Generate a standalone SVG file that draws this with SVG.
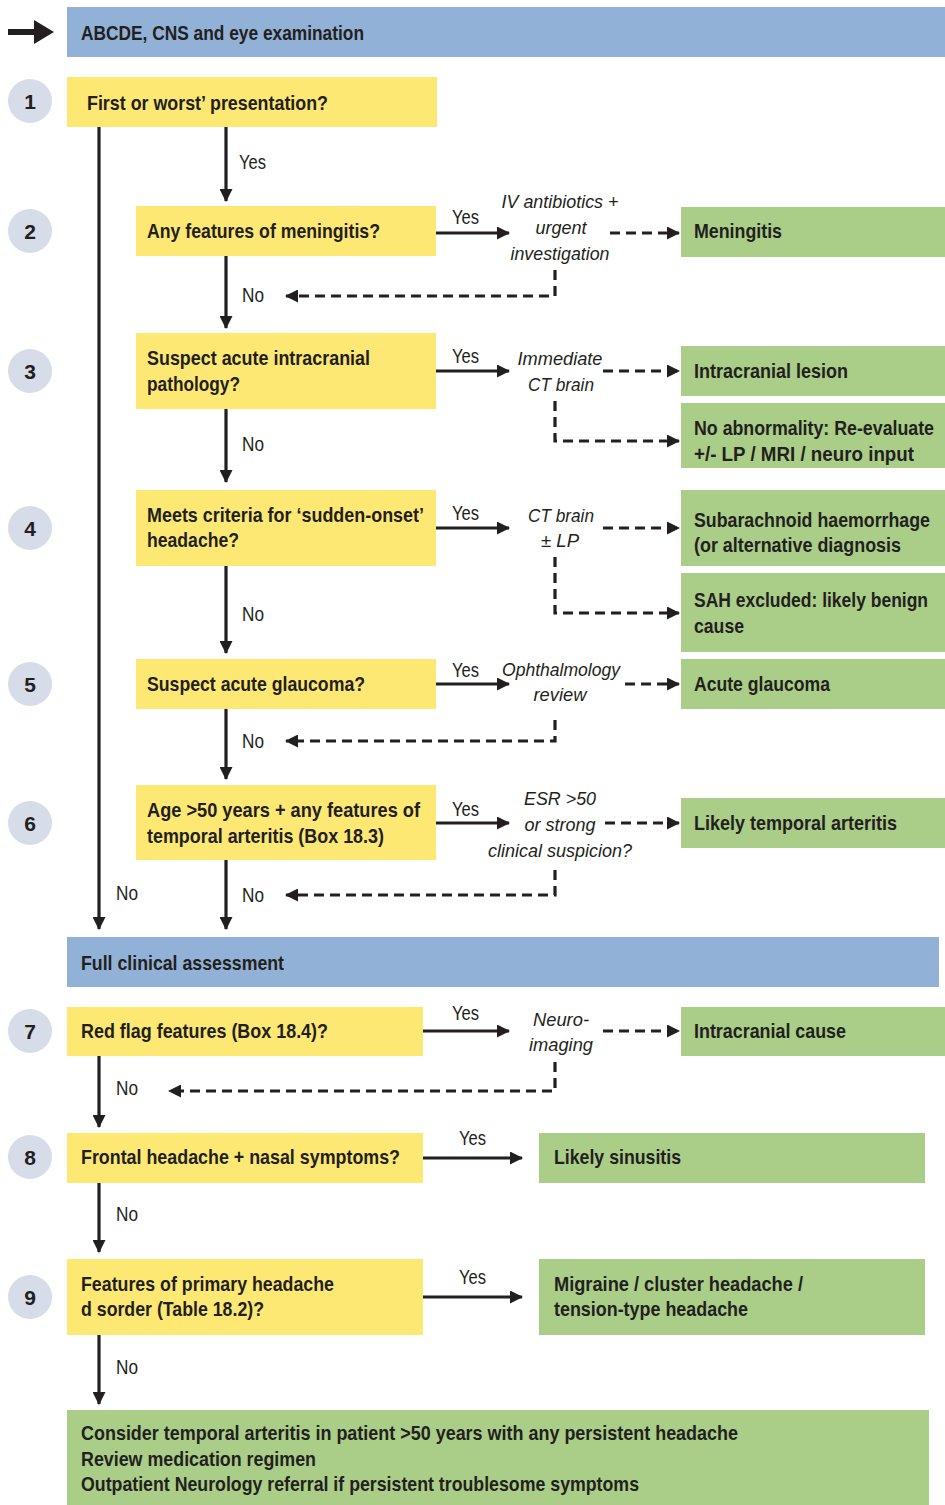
<svg xmlns="http://www.w3.org/2000/svg" width="945" height="1505" viewBox="0 0 945 1505">
<style>
.y{fill:#fde874}.g{fill:#aacd88}.b{fill:#92b1d7}.c{fill:#d6dde9}
text{font-family:"Liberation Sans",Arial,sans-serif;fill:#231f20}
.t{font-size:21px;font-weight:bold}
.n{font-size:21px;font-weight:bold;text-anchor:middle}
.l{font-size:20px}
.i{font-size:19px;font-style:italic;text-anchor:middle}
.s{stroke:#231f20;stroke-width:3.2;fill:none}
.d{stroke:#231f20;stroke-width:3.2;fill:none;stroke-dasharray:10 6}
</style>
<defs>
<marker id="a" markerWidth="13" markerHeight="13" refX="12" refY="6.5" orient="auto" markerUnits="userSpaceOnUse"><path d="M0,0L13,6.5L0,13z" fill="#231f20"/></marker>
</defs>
<g id="start"><path d="M8,29H34V20L54,32L34,44V35H8z" fill="#231f20"/></g>
<g id="header"><rect class="b" x="67" y="7" width="878" height="50"/><text class="t" x="81" y="40" textLength="283" lengthAdjust="spacingAndGlyphs">ABCDE, CNS and eye examination</text></g>
<g id="c1"><circle class="c" cx="30" cy="101" r="22"/><text class="n" x="30" y="109">1</text></g>
<g id="c2"><circle class="c" cx="30" cy="231" r="22"/><text class="n" x="30" y="239">2</text></g>
<g id="c3"><circle class="c" cx="30" cy="371" r="22"/><text class="n" x="30" y="379">3</text></g>
<g id="c4"><circle class="c" cx="30" cy="528" r="22"/><text class="n" x="30" y="536">4</text></g>
<g id="c5"><circle class="c" cx="30" cy="684" r="22"/><text class="n" x="30" y="692">5</text></g>
<g id="c6"><circle class="c" cx="30" cy="823" r="22"/><text class="n" x="30" y="831">6</text></g>
<g id="c7"><circle class="c" cx="30" cy="1031" r="22"/><text class="n" x="30" y="1039">7</text></g>
<g id="c8"><circle class="c" cx="30" cy="1157" r="22"/><text class="n" x="30" y="1165">8</text></g>
<g id="c9"><circle class="c" cx="30" cy="1297" r="22"/><text class="n" x="30" y="1305">9</text></g>

<g id="q1"><rect class="y" x="67" y="77" width="370" height="50"/><text class="t" x="87" y="110" textLength="241" lengthAdjust="spacingAndGlyphs">First or worst’ presentation?</text></g>
<g id="q2"><rect class="y" x="136" y="206" width="300" height="50"/><text class="t" x="147" y="238" textLength="233" lengthAdjust="spacingAndGlyphs">Any features of meningitis?</text></g>
<g id="q3"><rect class="y" x="136" y="333" width="300" height="76"/><text class="t" x="147" y="365" textLength="223" lengthAdjust="spacingAndGlyphs">Suspect acute intracranial</text><text class="t" x="147" y="391" textLength="93" lengthAdjust="spacingAndGlyphs">pathology?</text></g>
<g id="q4"><rect class="y" x="136" y="490" width="300" height="76"/><text class="t" x="147" y="522" textLength="277" lengthAdjust="spacingAndGlyphs">Meets criteria for ‘sudden-onset’</text><text class="t" x="147" y="547" textLength="92" lengthAdjust="spacingAndGlyphs">headache?</text></g>
<g id="q5"><rect class="y" x="136" y="659" width="300" height="50"/><text class="t" x="147" y="691" textLength="218" lengthAdjust="spacingAndGlyphs">Suspect acute glaucoma?</text></g>
<g id="q6"><rect class="y" x="136" y="785" width="300" height="75"/><text class="t" x="147" y="817" textLength="273" lengthAdjust="spacingAndGlyphs">Age &gt;50 years + any features of</text><text class="t" x="147" y="843" textLength="237" lengthAdjust="spacingAndGlyphs">temporal arteritis (Box 18.3)</text></g>

<g id="r1"><rect class="g" x="681" y="207" width="264" height="50"/><text class="t" x="694" y="238" textLength="88" lengthAdjust="spacingAndGlyphs">Meningitis</text></g>
<g id="r2"><rect class="g" x="681" y="346" width="264" height="50"/><text class="t" x="694" y="378" textLength="154" lengthAdjust="spacingAndGlyphs">Intracranial lesion</text></g>
<g id="r3"><rect class="g" x="681" y="403" width="264" height="65"/><text class="t" x="694" y="435" textLength="240" lengthAdjust="spacingAndGlyphs">No abnormality: Re-evaluate</text><text class="t" x="694" y="461" textLength="220" lengthAdjust="spacingAndGlyphs">+/- LP / MRI / neuro input</text></g>
<g id="r4"><rect class="g" x="681" y="490" width="264" height="76"/><text class="t" x="694" y="527" textLength="236" lengthAdjust="spacingAndGlyphs">Subarachnoid haemorrhage</text><text class="t" x="694" y="552" textLength="207" lengthAdjust="spacingAndGlyphs">(or alternative diagnosis</text></g>
<g id="r5"><rect class="g" x="681" y="573" width="264" height="79"/><text class="t" x="694" y="607" textLength="234" lengthAdjust="spacingAndGlyphs">SAH excluded: likely benign</text><text class="t" x="694" y="633" textLength="50" lengthAdjust="spacingAndGlyphs">cause</text></g>
<g id="r6"><rect class="g" x="681" y="659" width="264" height="50"/><text class="t" x="694" y="691" textLength="136" lengthAdjust="spacingAndGlyphs">Acute glaucoma</text></g>
<g id="r7"><rect class="g" x="681" y="798" width="264" height="50"/><text class="t" x="694" y="830" textLength="203" lengthAdjust="spacingAndGlyphs">Likely temporal arteritis</text></g>

<g id="full"><rect class="b" x="67" y="937" width="872" height="50"/><text class="t" x="81" y="970" textLength="203" lengthAdjust="spacingAndGlyphs">Full clinical assessment</text></g>

<g id="q7"><rect class="y" x="67" y="1007" width="356" height="49"/><text class="t" x="81" y="1038" textLength="247" lengthAdjust="spacingAndGlyphs">Red flag features (Box 18.4)?</text></g>
<g id="q8"><rect class="y" x="67" y="1133" width="356" height="50"/><text class="t" x="81" y="1164" textLength="319" lengthAdjust="spacingAndGlyphs">Frontal headache + nasal symptoms?</text></g>
<g id="q9"><rect class="y" x="67" y="1259" width="356" height="76"/><text class="t" x="81" y="1291" textLength="253" lengthAdjust="spacingAndGlyphs">Features of primary headache</text><text class="t" x="81" y="1316" textLength="183" lengthAdjust="spacingAndGlyphs">d sorder (Table 18.2)?</text></g>
<g id="r8"><rect class="g" x="681" y="1007" width="264" height="49"/><text class="t" x="694" y="1038" textLength="152" lengthAdjust="spacingAndGlyphs">Intracranial cause</text></g>
<g id="r9"><rect class="g" x="539" y="1133" width="386" height="50"/><text class="t" x="554" y="1164" textLength="127" lengthAdjust="spacingAndGlyphs">Likely sinusitis</text></g>
<g id="r10"><rect class="g" x="539" y="1259" width="386" height="76"/><text class="t" x="554" y="1291" textLength="249" lengthAdjust="spacingAndGlyphs">Migraine / cluster headache /</text><text class="t" x="554" y="1316" textLength="194" lengthAdjust="spacingAndGlyphs">tension-type headache</text></g>
<g id="final"><rect class="g" x="67" y="1410" width="862" height="95"/><text class="t" x="81" y="1440" textLength="657" lengthAdjust="spacingAndGlyphs">Consider temporal arteritis in patient &gt;50 years with any persistent headache</text><text class="t" x="81" y="1466" textLength="235" lengthAdjust="spacingAndGlyphs">Review medication regimen</text><text class="t" x="81" y="1491" textLength="558" lengthAdjust="spacingAndGlyphs">Outpatient Neurology referral if persistent troublesome symptoms</text></g>

<g id="actions">
<text class="i" x="560" y="208" textLength="117" lengthAdjust="spacingAndGlyphs">IV antibiotics +</text><text class="i" x="561" y="234" textLength="51" lengthAdjust="spacingAndGlyphs">urgent</text><text class="i" x="560" y="260" textLength="99" lengthAdjust="spacingAndGlyphs">investigation</text>
<text class="i" x="560" y="365" textLength="85" lengthAdjust="spacingAndGlyphs">Immediate</text><text class="i" x="561" y="391" textLength="66" lengthAdjust="spacingAndGlyphs">CT brain</text>
<text class="i" x="561" y="522" textLength="66" lengthAdjust="spacingAndGlyphs">CT brain</text><text class="i" x="560" y="547" textLength="38" lengthAdjust="spacingAndGlyphs">± LP</text>
<text class="i" x="561" y="676" textLength="118" lengthAdjust="spacingAndGlyphs">Ophthalmology</text><text class="i" x="560" y="701" textLength="53" lengthAdjust="spacingAndGlyphs">review</text>
<text class="i" x="560" y="805" textLength="72" lengthAdjust="spacingAndGlyphs">ESR &gt;50</text><text class="i" x="560" y="831" textLength="71" lengthAdjust="spacingAndGlyphs">or strong</text><text class="i" x="560" y="857" textLength="144" lengthAdjust="spacingAndGlyphs">clinical suspicion?</text>
<text class="i" x="561" y="1026" textLength="56" lengthAdjust="spacingAndGlyphs">Neuro-</text><text class="i" x="561" y="1051" textLength="64" lengthAdjust="spacingAndGlyphs">imaging</text>
</g>

<g id="connectors">
<path class="s" d="M99,127V929" marker-end="url(#a)"/>
<path class="s" d="M226,127V201" marker-end="url(#a)"/>
<path class="s" d="M226,256V328" marker-end="url(#a)"/>
<path class="s" d="M226,409V482" marker-end="url(#a)"/>
<path class="s" d="M226,566V653" marker-end="url(#a)"/>
<path class="s" d="M226,709V779" marker-end="url(#a)"/>
<path class="s" d="M226,860V929" marker-end="url(#a)"/>
<path class="s" d="M99,1056V1127" marker-end="url(#a)"/>
<path class="s" d="M99,1183V1252" marker-end="url(#a)"/>
<path class="s" d="M99,1335V1404" marker-end="url(#a)"/>
<path class="s" d="M436,233H509" marker-end="url(#a)"/>
<path class="s" d="M436,371H509" marker-end="url(#a)"/>
<path class="s" d="M436,528H509" marker-end="url(#a)"/>
<path class="s" d="M436,684H509" marker-end="url(#a)"/>
<path class="s" d="M436,823H509" marker-end="url(#a)"/>
<path class="s" d="M423,1031H509" marker-end="url(#a)"/>
<path class="s" d="M423,1158H522" marker-end="url(#a)"/>
<path class="s" d="M423,1297H522" marker-end="url(#a)"/>
<path class="d" d="M610,233H679" marker-end="url(#a)"/>
<path class="d" d="M603,371H679" marker-end="url(#a)"/>
<path class="d" d="M603,528H679" marker-end="url(#a)"/>
<path class="d" d="M625,684H679" marker-end="url(#a)"/>
<path class="d" d="M605,823H679" marker-end="url(#a)"/>
<path class="d" d="M603,1031H679" marker-end="url(#a)"/>
<path class="d" d="M555,270V296H286" marker-end="url(#a)"/>
<path class="d" d="M555,401V441H679" marker-end="url(#a)"/>
<path class="d" d="M555,557V613H679" marker-end="url(#a)"/>
<path class="d" d="M555,720V741H286" marker-end="url(#a)"/>
<path class="d" d="M555,870V895H286" marker-end="url(#a)"/>
<path class="d" d="M555,1062V1091H169" marker-end="url(#a)"/>
<text class="l" x="239" y="169" textLength="27" lengthAdjust="spacingAndGlyphs">Yes</text>
<text class="l" x="452" y="224" textLength="27" lengthAdjust="spacingAndGlyphs">Yes</text>
<text class="l" x="452" y="363" textLength="27" lengthAdjust="spacingAndGlyphs">Yes</text>
<text class="l" x="452" y="520" textLength="27" lengthAdjust="spacingAndGlyphs">Yes</text>
<text class="l" x="452" y="677" textLength="27" lengthAdjust="spacingAndGlyphs">Yes</text>
<text class="l" x="452" y="816" textLength="27" lengthAdjust="spacingAndGlyphs">Yes</text>
<text class="l" x="452" y="1020" textLength="27" lengthAdjust="spacingAndGlyphs">Yes</text>
<text class="l" x="459" y="1145" textLength="27" lengthAdjust="spacingAndGlyphs">Yes</text>
<text class="l" x="459" y="1284" textLength="27" lengthAdjust="spacingAndGlyphs">Yes</text>
<text class="l" x="242" y="302" textLength="22" lengthAdjust="spacingAndGlyphs">No</text>
<text class="l" x="242" y="451" textLength="22" lengthAdjust="spacingAndGlyphs">No</text>
<text class="l" x="242" y="621" textLength="22" lengthAdjust="spacingAndGlyphs">No</text>
<text class="l" x="242" y="748" textLength="22" lengthAdjust="spacingAndGlyphs">No</text>
<text class="l" x="242" y="902" textLength="22" lengthAdjust="spacingAndGlyphs">No</text>
<text class="l" x="116" y="900" textLength="22" lengthAdjust="spacingAndGlyphs">No</text>
<text class="l" x="116" y="1095" textLength="22" lengthAdjust="spacingAndGlyphs">No</text>
<text class="l" x="116" y="1221" textLength="22" lengthAdjust="spacingAndGlyphs">No</text>
<text class="l" x="116" y="1374" textLength="22" lengthAdjust="spacingAndGlyphs">No</text>
</g>
</svg>
